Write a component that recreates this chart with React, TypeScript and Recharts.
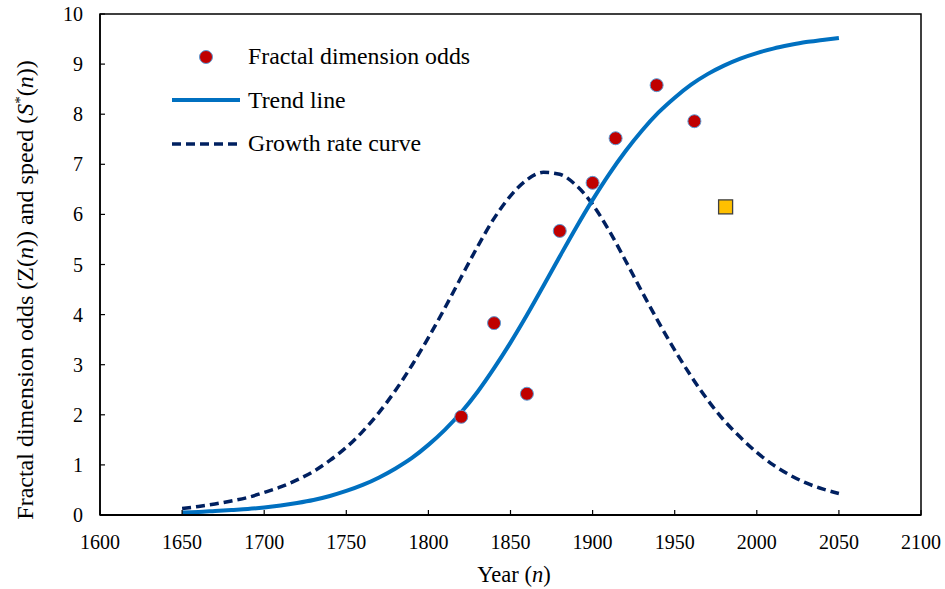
import {
  ComposedChart,
  Line,
  Scatter,
  XAxis,
  YAxis,
  ReferenceArea,
  Legend,
  Customized
} from 'recharts'

const FONT = '"Liberation Serif", "Times New Roman", serif'

// fitted curves, every 10 years
const years = [
  1650, 1660, 1670, 1680, 1690, 1700, 1710, 1720, 1730, 1740, 1750, 1760, 1770, 1780,
  1790, 1800, 1810, 1820, 1830, 1840, 1850, 1860, 1870, 1880, 1890, 1900, 1910, 1920,
  1930, 1940, 1950, 1960, 1970, 1980, 1990, 2000, 2010, 2020, 2030, 2040, 2050
]
const trend = [
  0.05, 0.06, 0.08, 0.1, 0.12, 0.15, 0.19, 0.24, 0.3, 0.38, 0.48, 0.6, 0.75, 0.93,
  1.14, 1.4, 1.7, 2.05, 2.46, 2.93, 3.44, 3.99, 4.57, 5.16, 5.74, 6.29, 6.8, 7.26,
  7.67, 8.03, 8.33, 8.59, 8.8, 8.97, 9.11, 9.22, 9.31, 9.38, 9.44, 9.48, 9.52
]
const growth = [
  0.13, 0.17, 0.22, 0.28, 0.35, 0.45, 0.56, 0.7, 0.87, 1.09, 1.35, 1.67, 2.05, 2.49,
  2.99, 3.54, 4.13, 4.75, 5.36, 5.92, 6.37, 6.69, 6.84, 6.8, 6.58, 6.2, 5.68, 5.08,
  4.46, 3.86, 3.29, 2.77, 2.3, 1.89, 1.55, 1.25, 1.0, 0.8, 0.64, 0.52, 0.43
]

// observed odds
const oddsYears = [1820, 1840, 1860, 1880, 1900, 1914, 1939, 1962]
const oddsValues = [1.96, 3.83, 2.42, 5.67, 6.63, 7.52, 8.58, 7.86]
const extraYear = [1981]
const extraValue = [6.15]

const xTicks = [1600, 1650, 1700, 1750, 1800, 1850, 1900, 1950, 2000, 2050, 2100]
const yTicks = [0, 1, 2, 3, 4, 5, 6, 7, 8, 9, 10]

const curveData = years.map((year, i) => ({ year, trend: trend[i], growth: growth[i] }))
const oddsData = oddsYears.map((year, i) => ({ year, value: oddsValues[i] }))
const extraData = extraYear.map((year, i) => ({ year, value: extraValue[i] }))

function XTick({ x, y, payload }: any) {
  return (
    <g>
      <line x1={x} y1={y} x2={x} y2={y - 5} stroke="#000" strokeWidth={1.2} />
      <text x={x} y={y + 34} textAnchor="middle" fontSize={20} fontFamily={FONT} fill="#000">
        {payload.value}
      </text>
    </g>
  )
}

function YTick({ x, y, payload }: any) {
  return (
    <g>
      <line x1={x} y1={y} x2={x + 5} y2={y} stroke="#000" strokeWidth={1.2} />
      <text x={x - 17} y={y + 7} textAnchor="end" fontSize={20} fontFamily={FONT} fill="#000">
        {payload.value}
      </text>
    </g>
  )
}

function Titles() {
  return (
    <g fontFamily={FONT} fill="#000">
      <text x={514} y={582} textAnchor="middle" fontSize={22.5}>
        Year (<tspan fontStyle="italic">n</tspan>)
      </text>
      <text transform="translate(33, 290) rotate(-90)" textAnchor="middle" fontSize={24}>
        Fractal dimension odds (Z(<tspan fontStyle="italic">n</tspan>)) and speed (
        <tspan fontStyle="italic">S</tspan>
        <tspan dy={-8} fontSize={15}>*</tspan>
        <tspan dy={8}>(</tspan>
        <tspan fontStyle="italic">n</tspan>))
      </text>
    </g>
  )
}

function LegendBox() {
  const rows = [
    {
      label: 'Fractal dimension odds',
      icon: <circle cx={34} cy={10} r={6.5} fill="#C00000" stroke="#5B9BD5" strokeWidth={1} />
    },
    {
      label: 'Trend line',
      icon: <line x1={0} y1={10} x2={68} y2={10} stroke="#0070C0" strokeWidth={4} />
    },
    {
      label: 'Growth rate curve',
      icon: (
        <line x1={0} y1={10} x2={68} y2={10} stroke="#002060" strokeWidth={3.5} strokeDasharray="9 5" />
      )
    }
  ]
  return (
    <div style={{ fontFamily: FONT, fontSize: 23.8, color: '#000' }}>
      {rows.map((r) => (
        <div key={r.label} style={{ display: 'flex', alignItems: 'center', height: 43.5 }}>
          <svg width={68} height={20} style={{ marginRight: 8 }}>
            {r.icon}
          </svg>
          <span style={{ whiteSpace: 'nowrap' }}>{r.label}</span>
        </div>
      ))}
    </div>
  )
}

export default function App() {
  return (
    <div style={{ position: 'absolute', left: 0, top: 0, background: '#fff' }}>
      <ComposedChart
        width={945}
        height={589}
        data={curveData}
        margin={{ top: 14, right: 24, bottom: 0, left: 0 }}
      >
        <XAxis
          type="number"
          dataKey="year"
          domain={[1600, 2100]}
          ticks={xTicks}
          interval={0}
          height={74}
          tickSize={0}
          tickMargin={0}
          tickLine={false}
          axisLine={{ stroke: '#000', strokeWidth: 1.8 }}
          tick={<XTick />}
          allowDataOverflow
        />
        <YAxis
          type="number"
          domain={[0, 10]}
          ticks={yTicks}
          interval={0}
          width={100}
          tickSize={0}
          tickMargin={0}
          tickLine={false}
          axisLine={{ stroke: '#000', strokeWidth: 1.5 }}
          tick={<YTick />}
          allowDataOverflow
        />
        <ReferenceArea
          x1={1600}
          x2={2100}
          y1={0}
          y2={10}
          fill="none"
          stroke="#000"
          strokeWidth={1.5}
          ifOverflow="visible"
        />
        <Line
          type="monotone"
          dataKey="growth"
          stroke="#002060"
          strokeWidth={3.5}
          strokeDasharray="9 5"
          dot={false}
          activeDot={false}
          isAnimationActive={false}
        />
        <Line
          type="monotone"
          dataKey="trend"
          stroke="#0070C0"
          strokeWidth={4}
          dot={false}
          activeDot={false}
          isAnimationActive={false}
        />
        <Scatter
          data={oddsData}
          dataKey="value"
          isAnimationActive={false}
          shape={(p: any) => (
            <circle cx={p.cx} cy={p.cy} r={6.5} fill="#C00000" stroke="#5B9BD5" strokeWidth={1} />
          )}
        />
        <Scatter
          data={extraData}
          dataKey="value"
          isAnimationActive={false}
          shape={(p: any) => (
            <rect x={p.cx - 7} y={p.cy - 7} width={14} height={14} fill="#FFC000" stroke="#404040" strokeWidth={1.3} />
          )}
        />
        <Legend
          layout="vertical"
          align="center"
          verticalAlign="middle"
          wrapperStyle={{ left: 172, top: 35, width: 330 }}
          content={() => <LegendBox />}
        />
        <Customized component={Titles} />
      </ComposedChart>
    </div>
  )
}
